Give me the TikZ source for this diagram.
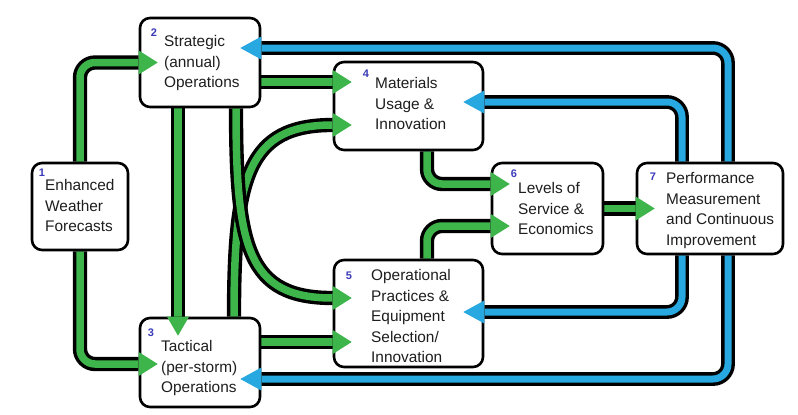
\documentclass[tikz,border=0pt]{standalone}
\usepackage{fontspec}
\setmainfont{Liberation Sans}
\usetikzlibrary{calc}
\pgfdeclarelayer{background}
\pgfsetlayers{background,main}
\definecolor{gr}{HTML}{3DB54A}
\definecolor{bl}{HTML}{27A8E0}
\definecolor{numc}{HTML}{3A3AB8}
\definecolor{txt}{HTML}{1E1E1E}
\newcommand\tipR[2]{\fill[#1] #2 ++(0,-12) -- ++(19,12) -- ++(-19,12) -- cycle;}
\newcommand\tipL[2]{\fill[#1] #2 ++(0,-11.5) -- ++(-21,11.5) -- ++(21,11.5) -- cycle;}
\newcommand\tipD[2]{\fill[#1] #2 ++(-11,0) -- ++(11,19) -- ++(11,-19) -- cycle;}
\tikzset{
  box/.style={draw, line width=2.6pt, rounded corners=10pt, fill=white, inner sep=0pt},
  lbl/.style={anchor=north west, inner sep=0pt, align=left, text=txt, font=\fontsize{15.4}{20.5}\selectfont},
  num/.style={inner sep=0pt, text=numc, font=\fontsize{11}{11}\selectfont\bfseries},
  gband/.style={line width=3.4pt, double=gr, double distance=7.5pt, rounded corners=15pt},
  bband/.style={line width=3.4pt, double=bl, double distance=7pt, rounded corners=15pt},
}
\begin{document}
\begin{tikzpicture}[x=1pt,y=-1pt]
\useasboundingbox (0,0) rectangle (798,415);
% boxes
\node[box, minimum width=96pt, minimum height=87pt] (b1) at (80,206.5) {};
\node[box, minimum width=120pt, minimum height=89pt] (b2) at (200,62.5) {};
\node[box, minimum width=120pt, minimum height=89pt] (b3) at (200,362.5) {};
\node[box, minimum width=149pt, minimum height=88pt] (b4) at (408.5,106) {};
\node[box, minimum width=149pt, minimum height=107pt] (b5) at (408.5,313.5) {};
\node[box, minimum width=111pt, minimum height=91pt] (b6) at (547.5,208.5) {};
\node[box, minimum width=146pt, minimum height=91pt] (b7) at (710,208.5) {};
% texts
\node[lbl] (t1) at (45,179.5) {Enhanced\\Weather\\Forecasts};
\node[lbl] (t2) at (164,35.5) {Strategic\\(annual)\\Operations};
\node[lbl] (t3) at (161,340.5) {Tactical\\(per-storm)\\Operations};
\node[lbl] (t4) at (375,77.5) {Materials\\Usage \&\\Innovation};
\node[lbl] (t5) at (371,269.5) {Operational\\Practices \&\\Equipment\\Selection/\\Innovation};
\node[lbl] (t6) at (518,182.5) {Levels of\\Service \&\\Economics};
\node[lbl] (t7) at (666,172.5) {Performance\\Measurement\\and Continuous\\Improvement};
\node[num] (n1) at (42,173) {1};
\node[num] (n2) at (154,33) {2};
\node[num] (n3) at (151,333) {3};
\node[num] (n4) at (366,74) {4};
\node[num] (n5) at (349,276) {5};
\node[num] (n6) at (514,174) {6};
\node[num] (n7) at (653,177) {7};
% bands
\begin{pgfonlayer}{background}
\draw[gband] (b1.north) |- (b2.west);
\draw[gband] (b1.south) |- ($(b3.west)+(0,1.5)$);
\draw[gband] ($(b2.south)+(-22,0)$) -- ($(b3.north)+(-22,0)$);
\draw[gband] ($(b2.east)+(0,19.5)$) -- ($(b4.west)+(0,-24)$);
\draw[gband] ($(b3.east)+(0,-20.5)$) -- ($(b5.west)+(0,28.5)$);
\draw[gband] ($(b3.north)+(34,0)$) .. controls +(0,-140) and +(-85,0) .. ($(b4.west)+(0,19)$);
\draw[gband] ($(b2.south)+(36,0)$) .. controls +(0,140) and +(-85,0) .. ($(b5.west)+(0,-15.5)$);
\draw[gband] ($(b4.south)+(18.5,0)$) |- ($(b6.west)+(0,-24.5)$);
\draw[gband] ($(b5.north)+(18.5,0)$) |- ($(b6.west)+(0,17.5)$);
\draw[gband] (b6.east) -- (b7.west);
\draw[bband] ($(b7.north)+(18,0)$) |- ($(b2.east)+(0,-14.5)$);
\draw[bband] ($(b7.north)+(-28,0)$) |- ($(b4.east)+(0,-4)$);
\draw[bband] ($(b7.south)+(-28,0)$) |- ($(b5.east)+(0,-1.5)$);
\draw[bband] ($(b7.south)+(18,0)$) |- ($(b3.east)+(0,16.5)$);
\end{pgfonlayer}
% arrow heads
\tipR{gr}{(b2.west)}
\tipR{gr}{($(b3.west)+(0,1.5)$)}
\tipD{gr}{($(b3.north)+(-22,0)$)}
\tipR{gr}{($(b4.west)+(0,-24)$)}
\tipR{gr}{($(b5.west)+(0,28.5)$)}
\tipR{gr}{($(b4.west)+(0,19)$)}
\tipR{gr}{($(b5.west)+(0,-15.5)$)}
\tipR{gr}{($(b6.west)+(0,-24.5)$)}
\tipR{gr}{($(b6.west)+(0,17.5)$)}
\tipR{gr}{(b7.west)}
\tipL{bl}{($(b2.east)+(0,-14.5)$)}
\tipL{bl}{($(b4.east)+(0,-4)$)}
\tipL{bl}{($(b5.east)+(0,-1.5)$)}
\tipL{bl}{($(b3.east)+(0,16.5)$)}
\end{tikzpicture}
\end{document}
